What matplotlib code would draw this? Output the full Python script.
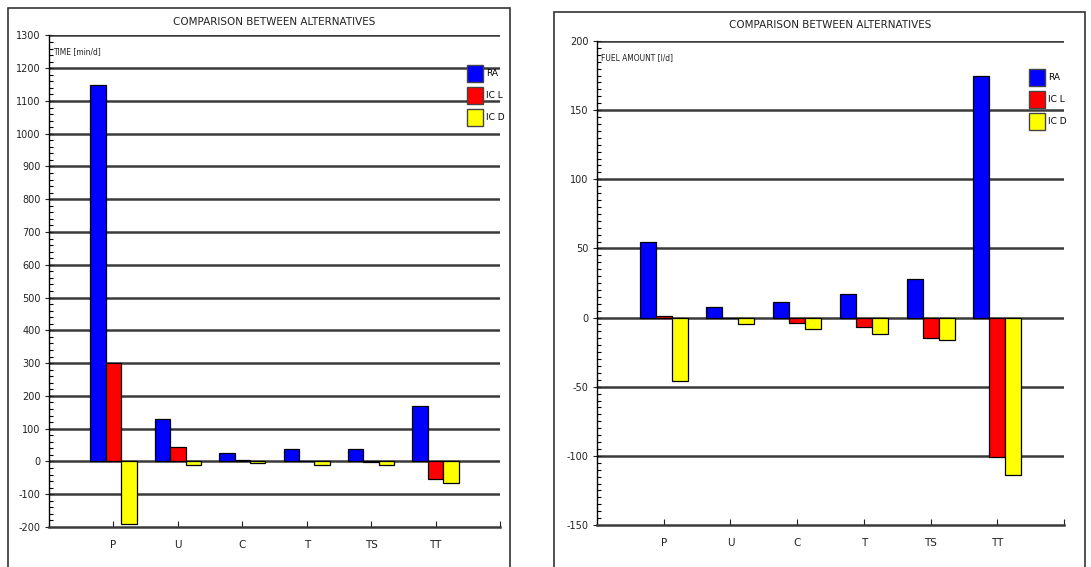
import numpy as np
import matplotlib
matplotlib.use("Agg")
import matplotlib.pyplot as plt
from matplotlib.patches import Rectangle, Patch
from matplotlib.ticker import MultipleLocator

plt.rcParams["axes.unicode_minus"] = False

categories = ["P", "U", "C", "T", "TS", "TT"]
series_names = ["RA", "IC L", "IC D"]

# time per day [min/d]
time_ra = [1150, 130, 25, 38, 38, 168]
time_icl = [300, 45, 3, 0, -3, -55]
time_icd = [-190, -10, -4, -10, -10, -65]

# fuel amount [l/d]
fuel_ra = [55, 8, 11, 17, 28, 175]
fuel_icl = [1, 0, -4, -7, -15, -101]
fuel_icd = [-46, -5, -8, -12, -16, -114]

colors = ["#0000ff", "#ff0000", "#ffff00"]
W, H = 1091, 567

fig = plt.figure(figsize=(W / 100, H / 100), dpi=100)
fig.patch.set_facecolor("white")

# outer frames around each panel
fig.add_artist(Rectangle((8 / W, -0.01), 502 / W, 1 - 8 / H + 0.01, transform=fig.transFigure,
                         fill=False, edgecolor="#333333", lw=1.2))
fig.add_artist(Rectangle((554 / W, -0.01), 531 / W, 1 - 12 / H + 0.01, transform=fig.transFigure,
                         fill=False, edgecolor="#333333", lw=1.2))


def panel(rect, series, ylim, major, minor, ylabel, label_y, leg_xy, title_y):
    ax = fig.add_axes(rect)
    x = np.arange(1, len(categories) + 1)
    bw = 0.24
    for i, vals in enumerate(series):
        ax.bar(x + (i - 1) * bw, vals, width=bw, color=colors[i], edgecolor="black",
               linewidth=0.9, zorder=3)
    ax.set_xlim(0, 7)
    ax.set_ylim(*ylim)
    for v in np.arange(ylim[0] + major, ylim[1] + major / 2, major):
        ax.axhline(v, color="#3a3a3a", lw=1.8, zorder=1)
    ax.spines["top"].set_visible(False)
    ax.spines["right"].set_visible(False)
    ax.spines["bottom"].set_color("#3a3a3a")
    ax.spines["bottom"].set_linewidth(1.8)
    ax.spines["left"].set_linewidth(1.0)
    ax.yaxis.set_major_locator(MultipleLocator(major))
    ax.yaxis.set_minor_locator(MultipleLocator(minor))
    ax.tick_params(axis="y", which="major", direction="inout", length=6, labelsize=7,
                   pad=3, colors="#222222")
    ax.tick_params(axis="y", which="minor", direction="in", length=3, width=0.8)
    ax.set_xticks(list(x) + [7])
    ax.set_xticklabels(categories + [""])
    ax.tick_params(axis="x", direction="in", length=4, labelsize=7.5, pad=9,
                   colors="#222222")
    ax.text(0.06, label_y, ylabel, fontsize=6, va="center", ha="left", color="#222222",
            fontstretch="condensed")
    handles = [Patch(facecolor=c, edgecolor="#444444", linewidth=1.0) for c in colors]
    ax.legend(handles, series_names, loc="upper left", bbox_to_anchor=leg_xy,
              frameon=False, fontsize=6.5, handlelength=1.8, handleheight=2.5,
              labelspacing=0.55, handletextpad=0.35, borderpad=0, borderaxespad=0)
    fig.text(rect[0] + rect[2] / 2, title_y, "COMPARISON BETWEEN ALTERNATIVES",
             ha="center", va="center", fontsize=7.5, color="#222222")
    return ax


panel([49 / W, 1 - 527 / H, 451 / W, (527 - 35.4) / H],
      [time_ra, time_icl, time_icd], (-200, 1300), 100, 20,
      "TIME [min/d]", 1250, ((467 - 49) / 451, 1 - (65 - 35.4) / 491.6), 1 - 22 / H)

panel([597 / W, 1 - 525 / H, 467 / W, (525 - 41) / H],
      [fuel_ra, fuel_icl, fuel_icd], (-150, 200), 50, 5,
      "FUEL AMOUNT [l/d]", 188, ((1029 - 597) / 467, 1 - (69 - 41) / 484), 1 - 25 / H)

plt.savefig("out.png", dpi=100)
